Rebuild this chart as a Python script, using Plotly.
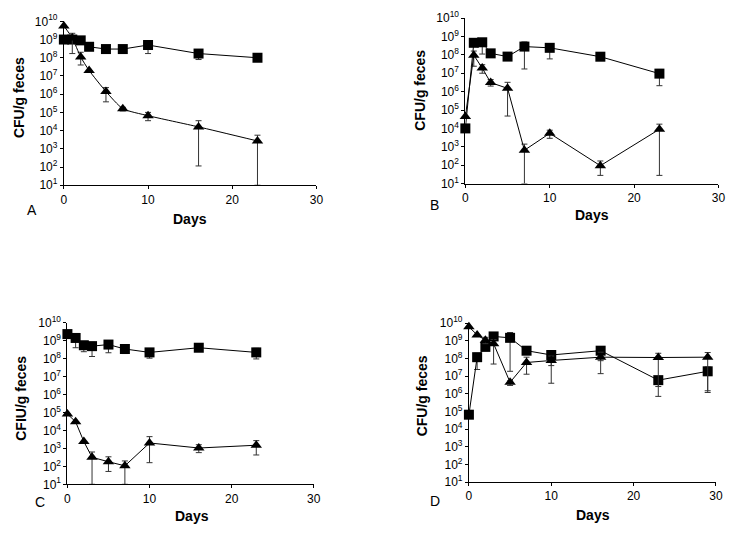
import plotly.graph_objects as go

# days sampled
days = [0, 1, 2, 3, 5, 7, 10, 16, 23]
days_d = [0, 1, 2, 3, 5, 7, 10, 16, 23, 29]

# panel A
a_sq = [1e9, 1e9, 9e8, 4e8, 3e8, 3e8, 5e8, 1.7e8, 1e8]
a_sq_hi = [1e9, 1.1e9, 1.0e9, 4.5e8, 3.6e8, 3.6e8, 6e8, 2e8, 1e8]
a_sq_lo = [1e9, 9e8, 6e8, 3e8, 2.2e8, 2.2e8, 1.7e8, 8e7, 1e8]
a_tri = [5.6e9, 1.2e9, 1.1e8, 2e7, 1.4e6, 1.6e5, 6.6e4, 1.6e4, 2.7e3]
a_tri_hi = [5.6e9, 2.2e9, 2e8, 2e7, 2.3e6, 1.9e5, 1e5, 3.5e4, 5.6e3]
a_tri_lo = [5.6e9, 1.7e8, 4e7, 2e7, 3.8e5, 1.2e5, 3.5e4, 115, 10]

# panel B
b_sq = [1e4, 4.5e8, 4.8e8, 1.2e8, 8e7, 2.8e8, 2.4e8, 7.9e7, 9.5e6]
b_sq_hi = [1e4, 6.5e8, 6.5e8, 1.4e8, 1.1e8, 5e8, 4e8, 7.9e7, 1.6e7]
b_sq_lo = [1e4, 3e8, 1.1e8, 1e8, 6e7, 1.7e7, 6e7, 7.9e7, 2.1e6]
b_tri = [4.4e4, 9.5e7, 1.9e7, 3.1e6, 1.5e6, 650, 5.4e3, 94, 9e3]
b_tri_hi = [4.4e4, 1.6e8, 2.9e7, 4.5e6, 3.2e6, 1.4e3, 8e3, 170, 1.7e4]
b_tri_lo = [4.4e4, 2.4e7, 1e7, 2e6, 4.7e4, 10, 2.9e3, 28, 28]

# panel C
c_sq = [2.3e9, 1.4e9, 5.5e8, 4.9e8, 6e8, 3.4e8, 2.2e8, 4e8, 2.2e8]
c_sq_hi = [2.3e9, 2.3e9, 8.5e8, 8e8, 9.8e8, 5e8, 3.5e8, 4e8, 3.7e8]
c_sq_lo = [2.3e9, 4e8, 2.4e8, 1.3e8, 2.1e8, 1.9e8, 1.05e8, 4e8, 9.5e7]
c_tri = [8.2e4, 3e4, 2.4e3, 320, 180, 107, 2e3, 1.05e3, 1.5e3]
c_tri_hi = [8.2e4, 3e4, 2.4e3, 630, 340, 200, 4.5e3, 1.6e3, 2.7e3]
c_tri_lo = [8.2e4, 3e4, 2.4e3, 10, 52, 10, 160, 580, 430]

# panel D
d_sq = [6.6e4, 1.2e8, 4.6e8, 1.8e9, 1.5e9, 2.8e8, 1.6e8, 2.8e8, 6e6, 1.9e7]
d_sq_hi = [6.6e4, 2e8, 6e8, 2e9, 3e9, 4.6e8, 2.8e8, 4.6e8, 8.5e6, 3.3e7]
d_sq_lo = [6.6e4, 2.4e7, 2.8e8, 1.5e9, 1.9e7, 2e8, 4e7, 7.6e7, 7.2e5, 1.5e6]
d_tri = [6.3e9, 2.2e9, 1.1e9, 7e8, 4.5e6, 6e7, 7.8e7, 1.2e8, 1.15e8, 1.2e8]
d_tri_hi = [6.3e9, 2.2e9, 1.6e9, 1.2e9, 5.5e6, 1.2e8, 1.4e8, 2.3e8, 2e8, 2.2e8]
d_tri_lo = [6.3e9, 2.2e9, 7e8, 4.9e7, 3e6, 1.3e7, 4e6, 1.4e7, 2.6e6, 1.2e6]

panels = [
    ("A", days, a_sq, a_sq_hi, a_sq_lo, a_tri, a_tri_hi, a_tri_lo, "CFU/g feces"),
    ("B", days, b_sq, b_sq_hi, b_sq_lo, b_tri, b_tri_hi, b_tri_lo, "CFU/g feces"),
    ("C", days, c_sq, c_sq_hi, c_sq_lo, c_tri, c_tri_hi, c_tri_lo, "CFIU/g feces"),
    ("D", days_d, d_sq, d_sq_hi, d_sq_lo, d_tri, d_tri_hi, d_tri_lo, "CFU/g feces"),
]

# figure fills the whole page (body margin removed below)
W, H = 739, 534

def px(x):
    return x / W

def py(y):
    return 1 - y / H

# plot boxes in page pixels: left, right, top, bottom
boxes = [
    (61.7, 317.7, 12.7, 181.7),
    (468.7, 725.3, 9.3, 180.0),
    (65.3, 315.0, 323.3, 490.0),
    (472.3, 722.7, 324.0, 487.7),
]
# label positions in page pixels: Days, y title, panel letter
days_pos = [(190, 216), (597, 212), (192, 523), (598, 522)]
ytitle_pos = [(17, 91), (423, 84), (18, 401), (425, 399)]
letter_pos = [(29, 207), (437, 202), (38, 508), (438, 507)]

ytick_vals = [10 ** k for k in range(1, 11)]
ytick_text = ["10<sup>%d</sup>" % k for k in range(1, 11)]

FONT = "Liberation Sans, Arial, sans-serif"
fig = go.Figure()

def errs(v, hi, lo):
    return [h - x for x, h in zip(v, hi)], [x - l for x, l in zip(v, lo)]

for i, (lab, x, sq, sqh, sql, tr, trh, trl, ytitle) in enumerate(panels):
    n = "" if i == 0 else str(i + 1)
    xa, ya = "x" + n, "y" + n
    up, dn = errs(sq, sqh, sql)
    fig.add_trace(go.Scatter(x=x, y=sq, xaxis=xa, yaxis=ya, mode="lines+markers",
                             line=dict(color="black", width=1),
                             marker=dict(symbol="square", size=10, color="black"),
                             error_y=dict(type="data", array=up, arrayminus=dn, color="#333",
                                          thickness=1, width=3),
                             cliponaxis=False, showlegend=False))
    up, dn = errs(tr, trh, trl)
    fig.add_trace(go.Scatter(x=x, y=tr, xaxis=xa, yaxis=ya, mode="lines+markers",
                             line=dict(color="black", width=1,
                                       shape="spline" if lab == "A" else "linear", smoothing=0.6),
                             marker=dict(symbol="triangle-up", size=10, color="black"),
                             error_y=dict(type="data", array=up, arrayminus=dn, color="#333",
                                          thickness=1, width=3),
                             cliponaxis=False, showlegend=False))
    l, r, t, b = boxes[i]
    fig.layout["xaxis" + n] = dict(domain=[px(l), px(r)], range=[0, 30], anchor=ya,
                                   tickvals=[0, 10, 20, 30], showgrid=False, zeroline=False,
                                   showline=True, linecolor="black", linewidth=1,
                                   ticks="outside", ticklen=3, tickcolor="black",
                                   tickfont=dict(size=12, family=FONT, color="black"))
    fig.layout["yaxis" + n] = dict(domain=[py(b), py(t)], type="log", range=[1, 10], anchor=xa,
                                   tickvals=ytick_vals, ticktext=ytick_text, showgrid=False,
                                   zeroline=False, showline=True, linecolor="black", linewidth=1,
                                   ticks="outside", ticklen=3, tickcolor="black",
                                   tickfont=dict(size=12, family=FONT, color="black"))
    fig.add_annotation(text="<b>Days</b>", xref="paper", yref="paper",
                       x=px(days_pos[i][0]), y=py(days_pos[i][1]), xanchor="center", yanchor="middle",
                       showarrow=False, font=dict(size=14, family=FONT, color="black"))
    fig.add_annotation(text="<b>%s</b>" % ytitle, xref="paper", yref="paper",
                       x=px(ytitle_pos[i][0]), y=py(ytitle_pos[i][1]), xanchor="center",
                       yanchor="middle", textangle=-90, showarrow=False,
                       font=dict(size=14, family=FONT, color="black"))
    fig.add_annotation(text=lab, xref="paper", yref="paper",
                       x=px(letter_pos[i][0]), y=py(letter_pos[i][1]), xanchor="center",
                       yanchor="middle", showarrow=False, font=dict(size=14, family=FONT, color="black"))

fig.update_layout(width=W, height=H, margin=dict(l=0, r=0, t=0, b=0),
                  plot_bgcolor="white", paper_bgcolor="white",
                  font=dict(family=FONT, color="black"))

# drop the default 8px page margin so the figure sits at the window corner
fig.write_html("out.html", post_script="document.body.style.margin='0px';",
               config={"displayModeBar": False})
